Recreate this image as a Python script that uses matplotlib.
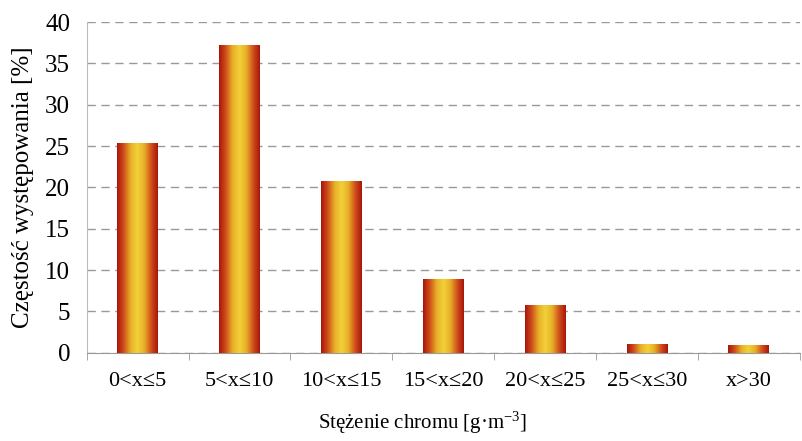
import matplotlib.pyplot as plt
import numpy as np
from matplotlib.colors import LinearSegmentedColormap

plt.rcParams['font.family'] = ['Liberation Serif', 'DejaVu Serif']
plt.rcParams['mathtext.fontset'] = 'custom'
plt.rcParams['mathtext.rm'] = 'Liberation Serif'
plt.rcParams['mathtext.it'] = 'Liberation Serif:italic'

categories = ['0<x≤5', '5<x≤10', '10<x≤15', '15<x≤20', '20<x≤25', '25<x≤30', 'x>30']
values = [25.3, 37.2, 20.7, 8.9, 5.8, 1.0, 0.9]

fig = plt.figure(figsize=(8.03, 4.41), dpi=100)
ax = fig.add_axes([0.108, 0.2, 0.888, 0.75])

x = np.arange(len(categories))
width = 0.4
bars = ax.bar(x, values, width=width, color='none', zorder=3)

# horizontal gradient: dark red at the edges, yellow in the middle
cmap = LinearSegmentedColormap.from_list(
  'bar', ['#a8140c', '#d0501a', '#e8b028', '#f2d038', '#e8b028', '#d0501a', '#a8140c'])
grad = np.linspace(0, 1, 256).reshape(1, -1)
for b in bars:
  x0, y0 = b.get_x(), b.get_y()
  ax.imshow(grad, cmap=cmap, aspect='auto', zorder=3,
            extent=[x0, x0 + b.get_width(), y0, y0 + b.get_height()])

ax.set_xlim(-0.5, len(categories) - 0.5)
ax.set_ylim(0, 40)
ax.set_yticks(np.arange(0, 41, 5))
ax.set_xticks(x)
ax.set_xticklabels(categories, fontsize=16)
ax.set_xticks(np.arange(-0.5, len(categories)), minor=True)
ax.tick_params(axis='x', which='major', length=0, pad=14)
ax.tick_params(axis='x', which='minor', length=5, color='#999999')
ax.tick_params(axis='y', length=0, labelsize=18, pad=12)

ax.yaxis.grid(True, linestyle=(0, (6, 4)), color='#999999', linewidth=1)
ax.set_axisbelow(True)
for s in ['top', 'right']:
  ax.spines[s].set_visible(False)
ax.spines['left'].set_color('#bbbbbb')
ax.spines['bottom'].set_color('#999999')

ax.set_ylabel('Częstość występowania [%]', fontsize=18, labelpad=8)
fig.text(0.526, 0.04, 'Stężenie chromu [g·m$^{\\mathrm{-3}}$]', fontsize=15,
         ha='center', va='center')

fig.savefig('out.png', dpi=100)
